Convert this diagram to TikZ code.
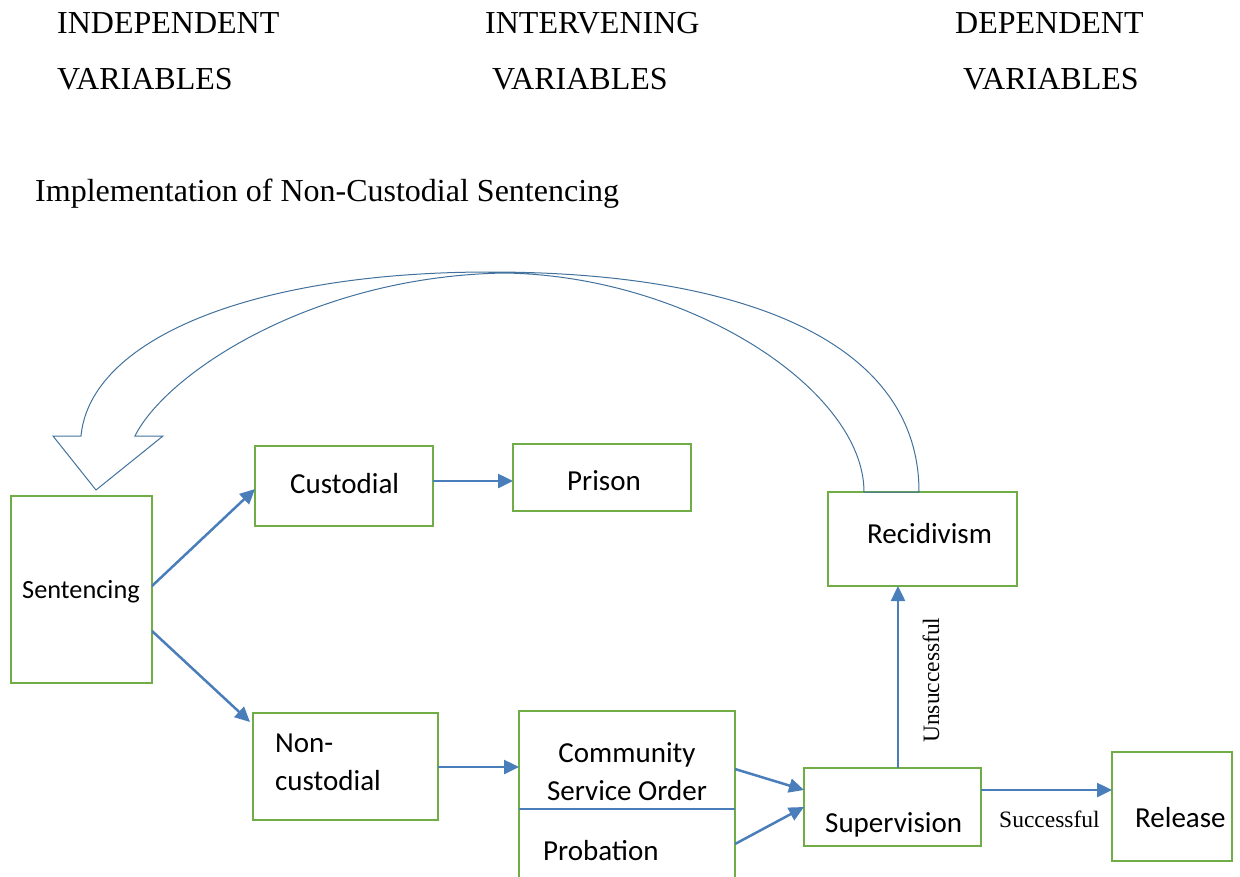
\documentclass[tikz,border=0pt]{standalone}
\usepackage{fontspec}
\setmainfont{Liberation Serif}
\newfontfamily\calib{Carlito}
\usetikzlibrary{arrows.meta,calc}
\definecolor{boxgreen}{HTML}{70AD47}
\definecolor{arrblue}{HTML}{4A7EBB}
\definecolor{curveblue}{HTML}{41719C}
\tikzset{
  box/.style={draw=boxgreen, line width=2.6pt, rectangle, inner sep=0pt, outer sep=0pt},
  arr/.style={draw=arrblue, line width=2.5pt, -{Triangle[length=15pt,width=14pt]}},
  head/.style={font=\fontsize{32}{37}\selectfont, inner sep=0pt, anchor=base west},
  btext/.style={font=\calib\fontsize{29}{34}\selectfont, inner sep=0pt},
  lbl/.style={font=\fontsize{23.5}{27}\selectfont, inner sep=0pt},
  curveline/.style={draw=curveblue, line width=1pt, line join=miter}
}
\begin{document}
\begin{tikzpicture}[x=1pt,y=-1pt]
\useasboundingbox (0,0) rectangle (1240,876);
% headers
\node[head] (h1) at (57,33) {INDEPENDENT};
\node[head] (h2) at (57,89) {VARIABLES};
\node[head] (h3) at (485,33) {INTERVENING};
\node[head] (h4) at (492,89) {VARIABLES};
\node[head] (h5) at (955,33) {DEPENDENT};
\node[head] (h6) at (963,89) {VARIABLES};
\node[head] (title) at (35,201) {Implementation of Non-Custodial Sentencing};

% boxes
\node[box, minimum width=141pt, minimum height=187pt] (sent) at (81.5,589.5) {};
\node[box, minimum width=178pt, minimum height=80pt] (cust) at (344,486) {};
\node[box, minimum width=178pt, minimum height=67pt] (prison) at (602,477.5) {};
\node[box, minimum width=189pt, minimum height=94pt] (recid) at (922.5,539) {};
\node[box, minimum width=185pt, minimum height=107pt] (noncust) at (345.5,766.5) {};
\node[box, minimum width=216pt, minimum height=169pt] (cso) at (627,795.5) {};
\node[box, minimum width=177pt, minimum height=78pt] (superv) at (892.5,807) {};
\node[box, minimum width=120pt, minimum height=109pt] (release) at (1172,806.5) {};

% divider in CSO box
\draw[draw=arrblue, line width=2pt] (cso.west |- 0,809) -- (cso.east |- 0,809);

% box texts
\node[btext, font=\calib\fontsize{26.3}{30}\selectfont, anchor=base west] (tsent) at (22,598) {Sentencing};
\node[btext, anchor=base west] (tcust) at (290,493) {Custodial};
\node[btext, anchor=base west] (tprison) at (567,490) {Prison};
\node[btext, anchor=base west] (trecid) at (867,543) {Recidivism};
\node[btext, anchor=base west] (tnon1) at (275,752) {Non-};
\node[btext, anchor=base west] (tnon2) at (275,790) {custodial};
\node[btext, anchor=base] (tcso1) at (627,762) {Community};
\node[btext, anchor=base] (tcso2) at (627,800) {Service Order};
\node[btext, anchor=base west] (tprob) at (543,860) {Probation};
\node[btext, anchor=base west] (tsup) at (825,832) {Supervision};
\node[btext, anchor=base west] (trel) at (1135,827) {Release};

% labels
\node[lbl, anchor=base west] (lsucc) at (999,827) {Successful};
\node[lbl, anchor=base west, rotate=90] (lunsucc) at (939,743) {Unsuccessful};

% arrows
\draw[arr] (sent.east |- 0,586) -- (cust.west |- 0,489);
\draw[arr] (sent.east |- 0,631) -- ([shift={(-3,9)}]noncust.north west);
\draw[arr] (cust.east |- 0,481) -- (prison.west |- 0,481);
\draw[arr] (noncust.east |- 0,767) -- (cso.west |- 0,767);
\draw[arr] (cso.east |- 0,769) -- (superv.west |- 0,790);
\draw[arr] (cso.east |- 0,844) -- (superv.west |- 0,807);
\draw[arr] (superv.north -| 898,0) -- (recid.south -| 898,0);
\draw[arr] (superv.east |- 0,790) -- (release.west |- 0,790);

% curved block arrow (recidivism back to sentencing)
\coordinate (cA) at (recid.north -| 864,0);
\coordinate (cB) at (recid.north -| 919,0);
\draw[curveline] (cA) -- (cB)
  .. controls (919,340) and (740,272) .. (490,272)
  .. controls (250,272) and (90,340) .. (81,436)
  -- (53,436) -- (96,490) -- (163,436) -- (135,436)
  .. controls (165,375) and (310,276) .. (505,273)
  .. controls (690,276) and (864,390) .. (cA) -- cycle;
\end{tikzpicture}
\end{document}
